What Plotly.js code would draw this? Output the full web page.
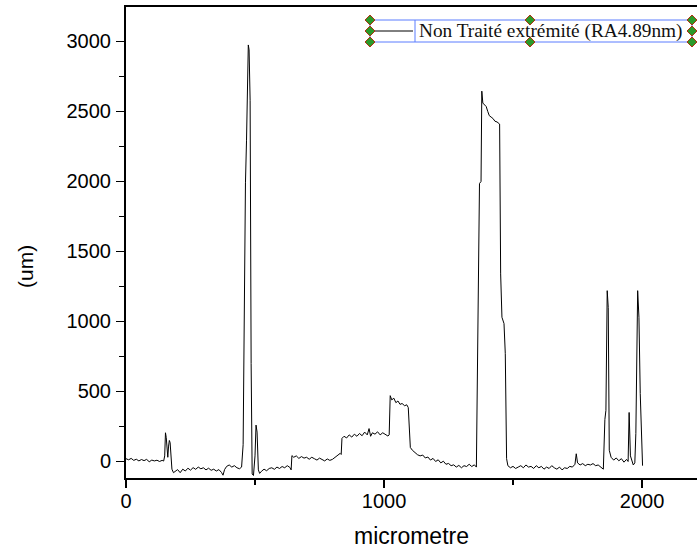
<!DOCTYPE html>
<html>
<head>
<meta charset="utf-8">
<script src="https://cdn.plot.ly/plotly-3.0.1.min.js"></script>
<style>html,body{margin:0;padding:0;background:#fff;}#chart{width:697px;height:549px;}</style>
</head>
<body>
<div id="chart"></div>
<script>
// Profile data (micrometre vs height)
var distance = [
  0,10,20,30,40,50,60,70,80,90,100,110,120,130,140,146,
  150,153,156,159,162,165,168,171,174,178,184,
  190,200,210,220,230,240,250,260,270,280,290,300,310,320,330,340,350,360,370,376,382,390,400,410,420,430,440,448,454,
  459,463,467,471,474,477,481,485,489,494,500,504,508,513,518,
  525,535,545,555,565,575,585,595,605,615,625,635,640,643,650,660,670,680,690,700,710,720,730,740,750,760,770,780,790,800,810,820,830,834,
  837,845,855,865,875,885,895,905,915,925,935,942,948,955,965,975,985,995,1005,1015,1020,
  1024,1030,1038,1046,1054,1062,1070,1080,1088,1094,1098,1102,1110,1120,1130,1140,1150,1160,1170,1180,1190,1200,1210,1220,1230,1240,1250,1260,1270,1280,1290,1300,1310,1320,1330,1340,1350,1358,
  1364,1370,1376,1379,1383,1390,1396,1402,1408,1415,1422,1430,1438,1448,1452,1457,1465,1470,1475,
  1480,1490,1500,1510,1520,1530,1540,1550,1560,1570,1580,1590,1600,1610,1620,1630,1640,1650,1660,1670,1680,1690,1700,1710,1720,1730,1740,1745,1750,1760,1770,1780,1790,1800,1810,1820,1830,1840,1850,
  1856,1860,1865,1869,1873,1880,1890,1900,1910,1920,1930,1940,1946,1950,1955,1960,1966,1972,1976,1983,1988,1993,1998,2002
];
var height = [
  20,12,22,8,16,4,14,6,15,-2,10,4,9,0,8,3,
  40,205,170,70,30,110,150,135,40,-55,-80,
  -72,-58,-80,-55,-68,-48,-62,-44,-56,-40,-52,-45,-60,-48,-63,-55,-68,-58,-78,-98,-58,-35,-25,-40,-30,-45,-52,-40,120,
  1220,1990,2290,2900,2975,2940,2580,700,-90,-100,40,260,210,-60,-85,
  -70,-55,-66,-50,-45,-56,-40,-50,-36,-45,-30,-42,-60,42,30,40,22,35,24,30,16,30,20,10,24,14,4,18,8,15,28,42,58,50,
  165,180,168,190,174,195,180,200,184,210,190,235,180,205,195,212,190,205,195,182,190,
  470,440,452,420,432,408,414,398,405,385,200,100,80,62,48,40,46,25,32,10,22,0,12,-10,2,-20,-14,-30,-24,-40,-28,-45,-30,-36,-20,-36,-24,-40,
  900,1985,2000,2645,2560,2545,2535,2500,2470,2460,2450,2430,2425,2410,1340,1030,985,770,20,
  -30,-45,-35,-50,-40,-30,-45,-25,-40,-35,-50,-30,-45,-35,-55,-40,-50,-30,-45,-55,-40,-60,-45,-50,-35,-40,-20,55,-10,-25,-15,-30,-20,-25,-15,-30,-25,-40,-55,
  300,365,1220,1100,80,30,10,25,5,20,-5,15,0,350,40,0,-25,-10,200,1220,1030,485,245,-30
];
var seriesName = "Non Traité extrémité (RA4.89nm)";
var xTitle = "micrometre";
var yTitle = "(um)";

// plot-area geometry in pixels (for the hand-placed legend box)
var L = 126, R = 697, T = 7, B = 478;
function px2paperX(p){ return (p - L) / (R - L); }
function px2paperY(p){ return (B - p) / (B - T); }

var shapes = [];
// legend frame (selected-object look of the original)
shapes.push({type:'rect', xref:'paper', yref:'paper',
  x0: px2paperX(370), x1: px2paperX(692), y0: px2paperY(20), y1: px2paperY(42),
  line:{color:'#5b7cff', width:1}, fillcolor:'rgba(0,0,0,0)', layer:'above'});
shapes.push({type:'line', xref:'paper', yref:'paper',
  x0: px2paperX(415), x1: px2paperX(415), y0: px2paperY(20), y1: px2paperY(42),
  line:{color:'#5b7cff', width:1}, layer:'above'});
// legend line sample
shapes.push({type:'line', xref:'paper', yref:'paper',
  x0: px2paperX(372), x1: px2paperX(413), y0: px2paperY(31), y1: px2paperY(31),
  line:{color:'#000', width:1}, layer:'above'});
// selection handles
var handles = [[370,20],[530,20],[692,20],[370,31],[692,31],[370,42],[530,42],[692,42]];
handles.forEach(function(h){
  var s = 5;
  var path = 'M' + px2paperX(h[0]) + ',' + px2paperY(h[1]-s) +
             ' L' + px2paperX(h[0]+s) + ',' + px2paperY(h[1]) +
             ' L' + px2paperX(h[0]) + ',' + px2paperY(h[1]+s) +
             ' L' + px2paperX(h[0]-s) + ',' + px2paperY(h[1]) + ' Z';
  shapes.push({type:'path', xref:'paper', yref:'paper', path:path,
          fillcolor:'#2a9a2a', line:{color:'#b03010', width:1}, layer:'above'});
});

var trace = {
  x: distance, y: height, type: 'scatter', mode: 'lines',
  name: seriesName, line: {color: '#000000', width: 1}, showlegend: false
};

var axisFont = {family: 'Liberation Sans, Arial, sans-serif', size: 20, color: '#000'};
var layout = {
  width: 697, height: 549,
  margin: {l: L, r: 0, t: T, b: 549 - B, pad: 0},
  paper_bgcolor: '#fff', plot_bgcolor: '#fff',
  showlegend: false,
  xaxis: {
    range: [0, 2213], showgrid: false, zeroline: false,
    showline: true, linecolor: '#000', linewidth: 2, mirror: true,
    ticks: 'outside', ticklen: 8, tickwidth: 1.5, tickcolor: '#000',
    tick0: 0, dtick: 1000, tickfont: axisFont, ticklabelstandoff: -4,
    minor: {dtick: 500, ticks: 'outside', ticklen: 5, tickwidth: 1.5, tickcolor: '#000', showgrid: false},
    title: {text: xTitle, font: {family: 'Liberation Sans, Arial, sans-serif', size: 23, color: '#000'}, standoff: 19}
  },
  yaxis: {
    range: [-118, 3246], showgrid: false, zeroline: false,
    showline: true, linecolor: '#000', linewidth: 2,
    ticks: 'outside', ticklen: 8, tickwidth: 1.5, tickcolor: '#000',
    tick0: 0, dtick: 500, tickfont: axisFont, ticklabelstandoff: 1,
    minor: {dtick: 250, ticks: 'outside', ticklen: 5, tickwidth: 1.5, tickcolor: '#000', showgrid: false}
  },
  annotations: [{
    text: yTitle, xref: 'paper', yref: 'paper',
    x: px2paperX(25), y: px2paperY(267), xanchor: 'center', yanchor: 'middle',
    textangle: -90, showarrow: false,
    font: {family: 'Liberation Sans, Arial, sans-serif', size: 21, color: '#000'}
  }, {
    text: seriesName, xref: 'paper', yref: 'paper',
    x: px2paperX(417), y: px2paperY(31), xanchor: 'left', yanchor: 'middle',
    showarrow: false,
    font: {family: 'Liberation Serif, Times New Roman, serif', size: 19.3, color: '#111'}
  }],
  shapes: shapes
};

Plotly.newPlot('chart', [trace], layout, {displayModeBar: false, staticPlot: true});
</script>
</body>
</html>
